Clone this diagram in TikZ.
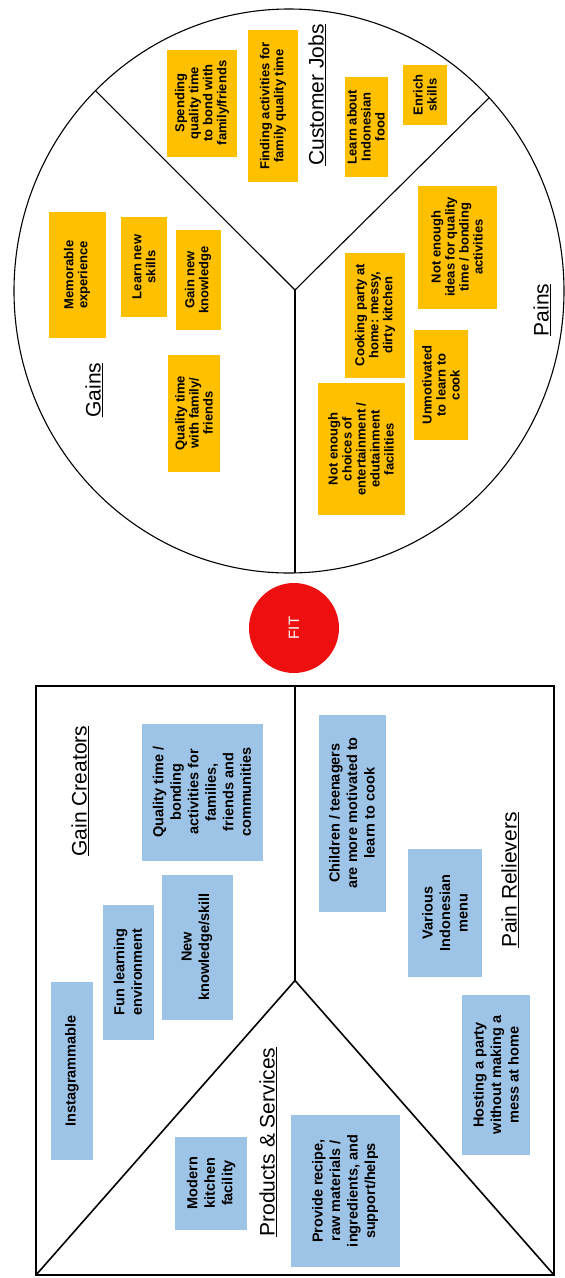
\documentclass[tikz,border=0pt]{standalone}
\usepackage{fontspec}
\setmainfont{Liberation Sans}
\usepackage{tikz}
\usetikzlibrary{shapes.geometric}
\usepackage{xcolor}
\definecolor{custYellow}{RGB}{255,192,0}
\definecolor{prodBlue}{RGB}{157,195,230}
\definecolor{fitRed}{RGB}{238,16,16}
\tikzset{noteCust/.style={fill=custYellow, rotate=90, align=center, inner sep=1.5pt, font=\bfseries\fontsize{13}{14}\selectfont}}
\tikzset{noteProd/.style={fill=prodBlue, rotate=90, align=center, inner sep=2pt, font=\bfseries\fontsize{14.5}{17.5}\selectfont}}
\tikzset{heading/.style={rotate=90, inner sep=1pt, font=\fontsize{21}{25}\selectfont}}
\tikzset{canvasLine/.style={line width=1.1pt}}
\tikzset{boxLine/.style={line width=1.6pt}}

\begin{document}
\begin{tikzpicture}[x=1pt, y=1pt]

\useasboundingbox (0,0) rectangle (565,-1278);

% customer profile
\node[draw, ellipse, canvasLine, minimum width=550pt, minimum height=564pt, inner sep=0pt, outer sep=0pt] (cust) at (289,-291) {};
\coordinate (hubTop) at (295,-290);
\draw[canvasLine] (cust.134) -- (hubTop) -- (cust.44);
\draw[canvasLine] (hubTop) -- (hubTop |- cust.south);

\node[heading] (jobsHead) at (317,-95) {\underline{Customer Jobs}};
\node[heading] (gainsHead) at (94,-390) {\underline{Gains}};
\node[heading] (painsHead) at (542,-310) {\underline{Pains}};

\node[noteCust, minimum width=107pt, minimum height=70pt] (spend) at (202,-103) {Spending\\quality time\\to bond with\\family/friends};
\node[noteCust, minimum width=152pt, minimum height=50pt] (findAct) at (273,-106) {Finding activities for\\family quality time};
\node[noteCust, minimum width=100pt, minimum height=43pt] (learnFood) at (366,-127) {Learn about\\Indonesian\\food};
\node[noteCust, minimum width=60pt, minimum height=44pt] (enrich) at (425,-95) {Enrich\\skills};

\node[noteCust, minimum width=126pt, minimum height=57pt] (memo) at (77,-275) {Memorable\\experience};
\node[noteCust, minimum width=100pt, minimum height=46pt] (learnSkill) at (144,-267) {Learn new\\skills};
\node[noteCust, minimum width=100pt, minimum height=45pt] (gainKnow) at (198,-280) {Gain new\\knowledge};
\node[noteCust, minimum width=117pt, minimum height=52pt] (qualTime) at (194,-413) {Quality time\\with family/\\friends};

\node[noteCust, minimum width=132pt, minimum height=87pt] (noChoice) at (361,-449) {Not enough\\choices of\\entertainment /\\edutainment\\facilities};
\node[noteCust, minimum width=125pt, minimum height=60pt] (cookParty) at (375,-315) {Cooking party at\\home: messy,\\dirty kitchen};
\node[noteCust, minimum width=123pt, minimum height=79pt] (noIdeas) at (457,-247) {Not enough\\ideas for quality\\time / bonding\\activities};
\node[noteCust, minimum width=110pt, minimum height=54pt] (unmot) at (441,-385) {Unmotivated\\to learn to\\cook};

\node[circle, fill=fitRed, minimum size=90pt, inner sep=0pt, text=white, rotate=90, font=\fontsize{15}{17}\selectfont] (fit) at (294,-628) {FIT};

% value map
\node[draw, boxLine, minimum width=518pt, minimum height=589pt, inner sep=0pt, outer sep=0pt] (prop) at (295,-980.5) {};
\draw[boxLine] (prop.north) -- (prop.center);
\draw[boxLine] (prop.south west) -- (prop.center) -- (prop.south east);

\node[heading] (creatHead) at (80,-791) {\underline{Gain Creators}};
\node[heading] (prodHead) at (268,-1142) {\underline{Products \& Services}};
\node[heading] (relHead) at (510,-880) {\underline{Pain Relievers}};

\node[noteProd, minimum width=137pt, minimum height=121pt] (qualBond) at (202,-792) {Quality time /\\bonding\\activities for\\families,\\friends and\\communities};
\node[noteProd, minimum width=145pt, minimum height=71pt] (newKnow) at (197,-947) {New\\knowledge/skill};
\node[noteProd, minimum width=135pt, minimum height=51pt] (funLearn) at (128,-972) {Fun learning\\environment};
\node[noteProd, minimum width=178pt, minimum height=42pt] (insta) at (72,-1071) {Instagrammable};
\node[noteProd, minimum width=93pt, minimum height=72pt] (modern) at (211,-1183) {Modern\\kitchen\\facility};
\node[noteProd, minimum width=152pt, minimum height=109pt] (provide) at (345,-1191) {Provide recipe,\\raw materials /\\ingredients, and\\support/helps};
\node[noteProd, minimum width=197pt, minimum height=67pt] (children) at (352,-813) {Children / teenagers\\are more motivated to\\learn to cook};
\node[noteProd, minimum width=128pt, minimum height=74pt] (various) at (445,-913) {Various\\Indonesian\\menu};
\node[noteProd, minimum width=160pt, minimum height=68pt] (hosting) at (496,-1075) {Hosting a party\\without making a\\mess at home};

\end{tikzpicture}
\end{document}
